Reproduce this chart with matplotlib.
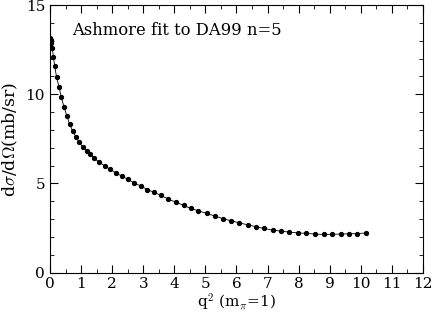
import matplotlib
matplotlib.use("Agg")
import matplotlib.pyplot as plt
from matplotlib.ticker import MultipleLocator

# values
q2 = [0.0, 0.02, 0.04, 0.075, 0.11, 0.15, 0.21, 0.29, 0.36, 0.45, 0.54, 0.63,
      0.73, 0.84, 0.94, 1.05, 1.18, 1.29, 1.43, 1.59, 1.76, 1.93, 2.11, 2.31,
      2.50, 2.70, 2.92, 3.13, 3.35, 3.57, 3.81, 4.05, 4.30, 4.53, 4.77, 5.04,
      5.31, 5.57, 5.82, 6.09, 6.36, 6.63, 6.88, 7.17, 7.43, 7.70, 7.97, 8.25,
      8.54, 8.82, 9.08, 9.35, 9.62, 9.89, 10.16]
dsig = [13.17, 13.04, 12.85, 12.57, 12.1, 11.6, 10.98, 10.42, 9.86, 9.3, 8.8, 8.33,
        7.94, 7.6, 7.3, 7.06, 6.81, 6.63, 6.40, 6.18, 5.99, 5.79, 5.60, 5.41,
        5.24, 5.04, 4.85, 4.66, 4.50, 4.33, 4.12, 3.95, 3.77, 3.60, 3.47, 3.32,
        3.17, 3.02, 2.91, 2.79, 2.68, 2.57, 2.48, 2.38, 2.33, 2.27, 2.23, 2.20,
        2.16, 2.14, 2.15, 2.16, 2.18, 2.19, 2.22]

plt.rcParams['font.family'] = ['DejaVu Serif']
plt.rcParams['mathtext.fontset'] = 'cm'

fig = plt.figure(figsize=(4.32, 3.17), dpi=100)
ax = fig.add_axes([0.1157, 0.140, 0.8633, 0.844])

ax.plot(q2, dsig, color='black', lw=0.6)
ax.plot(q2, dsig, 'o', color='black', ms=2.8)

ax.set_xlim(0, 12)
ax.set_ylim(0, 15)
ax.xaxis.set_major_locator(MultipleLocator(1))
ax.xaxis.set_minor_locator(MultipleLocator(0.5))
ax.yaxis.set_major_locator(MultipleLocator(5))
ax.yaxis.set_minor_locator(MultipleLocator(1))
ax.tick_params(which='both', direction='in', top=True, right=True, labelsize=11)
ax.tick_params(which='major', length=6)
ax.tick_params(which='minor', length=3)

ax.set_xlabel(r'q$^2$ (m$_\pi$=1)', fontsize=11, labelpad=0)
ax.set_ylabel(r'd$\sigma$/d$\Omega$(mb/sr)', fontsize=12.5, labelpad=4)

ax.text(0.06, 0.905, 'Ashmore fit to DA99 n=5', transform=ax.transAxes,
        fontsize=11.8, va='center')

fig.savefig('out.png', dpi=100)
